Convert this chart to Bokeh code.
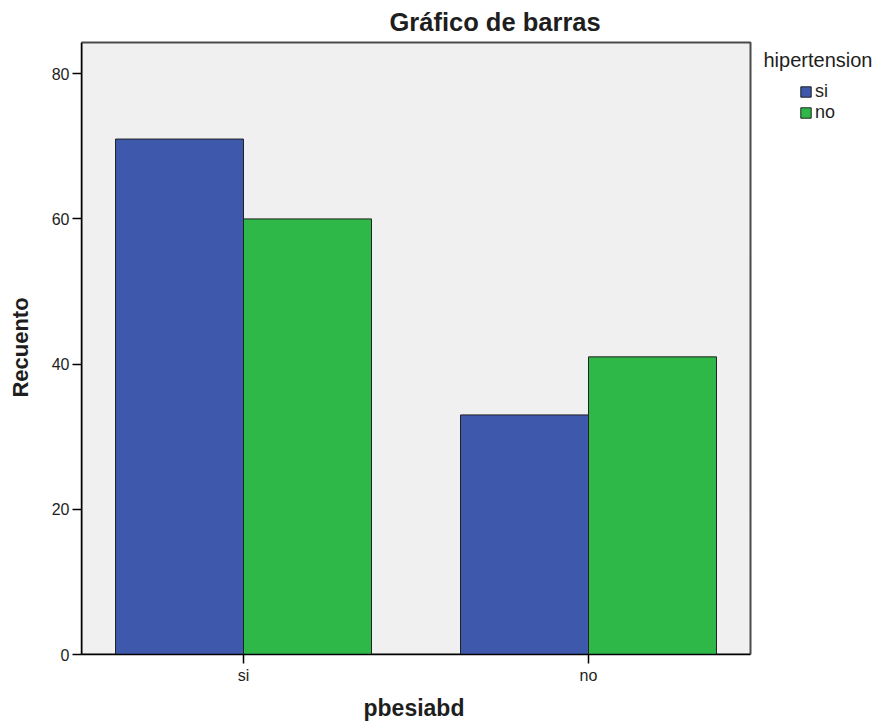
from bokeh.plotting import figure
from bokeh.models import ColumnDataSource, FixedTicker, Legend, LegendItem, Title, Range1d, Label, BoxAnnotation
from bokeh.embed import file_html
from bokeh.resources import INLINE

categories = ["si", "no"]
series_names = ["si", "no"]
si_counts = [71, 33]
no_counts = [60, 41]
y_ticks = [0, 20, 40, 60, 80]

pos = [1, 2]
bw = 0.371
x_start, x_panel_end, x_end = 0.5304, 2.4696, 2.8377
y_panel_end, y_end = 84.3, 84.575
src_si = ColumnDataSource(dict(x=[p_ - bw / 2 for p_ in pos], top=si_counts))
src_no = ColumnDataSource(dict(x=[p_ + bw / 2 for p_ in pos], top=no_counts))

FONT = "Liberation Sans"
TXT = "#1e1e1e"
p = figure(frame_width=796, frame_height=614, output_backend="svg", toolbar_location=None,
           x_range=Range1d(x_start, x_end), y_range=Range1d(0, y_end),
           min_border_left=81, min_border_right=2, min_border_top=40, min_border_bottom=61)
p.title.visible = False
p.background_fill_color = "white"
p.border_fill_color = "white"
p.outline_line_color = None
p.grid.visible = False

# plot panel background + border (the region used by the bars)
p.add_layout(BoxAnnotation(left=x_start, right=x_panel_end, bottom=0, top=y_panel_end,
                           fill_color="#f0f0f0", fill_alpha=1, line_color="#4a4a4a",
                           line_alpha=1, line_width=2, level="underlay"))

r1 = p.vbar(x="x", top="top", width=bw, source=src_si, fill_color="#3e58ac", line_color="#222222", line_width=1)
r2 = p.vbar(x="x", top="top", width=bw, source=src_no, fill_color="#2eb848", line_color="#222222", line_width=1)

p.xaxis.ticker = FixedTicker(ticks=pos)
p.xaxis.major_label_overrides = {pos[i]: categories[i] for i in range(len(pos))}
p.yaxis.ticker = FixedTicker(ticks=y_ticks)
p.xaxis.bounds = (x_start, x_panel_end)
p.yaxis.bounds = (0, y_panel_end)
for ax in (p.xaxis, p.yaxis):
    ax.minor_tick_line_color = None
    ax.major_tick_in = 0
    ax.major_tick_out = 9
    ax.axis_line_color = "black"
    ax.axis_line_width = 1.5
    ax.major_tick_line_color = "black"
    ax.major_tick_line_width = 1.5
    ax.major_label_text_font = FONT
    ax.major_label_text_font_size = "16px"
    ax.major_label_text_color = TXT
p.yaxis.major_label_standoff = 3
p.xaxis.major_label_standoff = 3

p.yaxis.axis_label = "Recuento"
p.yaxis.axis_label_text_font = FONT
p.yaxis.axis_label_text_font_style = "bold"
p.yaxis.axis_label_text_font_size = "22px"
p.yaxis.axis_label_text_color = TXT
p.yaxis.axis_label_standoff = 16

p.add_layout(Title(text="pbesiabd", align="left", offset=282, text_font=FONT, text_color=TXT,
                   text_font_size="23px", text_font_style="bold", standoff=12), "below")
p.add_layout(Title(text="Gráfico de barras", align="left", offset=308, text_font=FONT, text_color=TXT,
                   text_font_size="25.5px", text_font_style="bold", standoff=9), "above")

legend = Legend(items=[LegendItem(label=series_names[0], renderers=[r1]),
                       LegendItem(label=series_names[1], renderers=[r2])],
                label_text_font=FONT, label_text_font_size="18px", label_text_color=TXT,
                glyph_width=13, glyph_height=13, label_height=18, spacing=0, label_standoff=3,
                border_line_color=None, background_fill_alpha=0,
                location=(718, 531), padding=0, margin=0)
p.add_layout(legend, "center")
p.add_layout(Label(x=682, y=595, x_units="screen", y_units="screen", text="hipertension",
                   text_font=FONT, text_font_size="20px", text_color=TXT, text_baseline="alphabetic"))

open("out.html", "w").write(file_html(p, INLINE))
